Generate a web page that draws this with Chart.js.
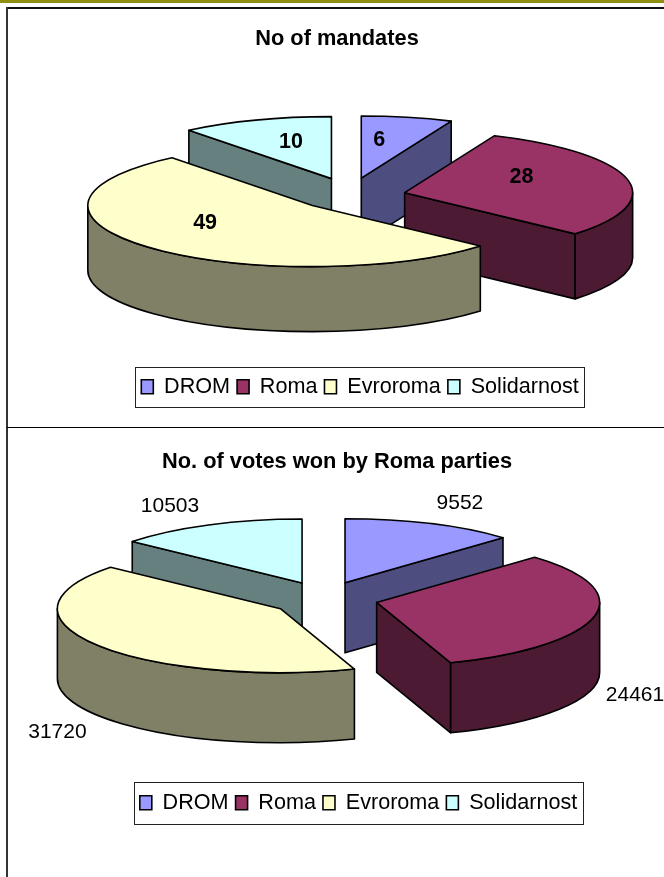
<!DOCTYPE html>
<html>
<head>
<meta charset="utf-8">
<script src="https://cdn.jsdelivr.net/npm/chart.js"></script>
<style>
html,body{margin:0;padding:0;background:#fff;width:664px;height:877px;overflow:hidden}
canvas{position:absolute;left:0}
.f{position:absolute}
</style>
</head>
<body>
<div class="f" style="left:0;top:0;width:664px;height:3px;background:#8f8f14"></div>
<div class="f" style="left:6px;top:7px;width:658px;height:2px;background:#111"></div>
<div class="f" style="left:6px;top:7px;width:2px;height:870px;background:#333"></div>
<div class="f" style="left:7px;top:427px;width:657px;height:1px;background:#000"></div>
<canvas id="c1" style="top:0"></canvas>
<canvas id="c2" style="top:427px"></canvas>
<script>
const categories = ['DROM', 'Roma', 'Evroroma', 'Solidarnost'];
const mandates = [6, 28, 49, 10];
const votes = [9552, 24461, 31720, 10503];
const topColors = ['#9999FF', '#993366', '#FFFFCC', '#CCFFFF'];
const wallColors = ['#4D4D80', '#4D1A33', '#808066', '#668080'];
const paintOrder = [3, 0, 1, 2];

const FONT = '"Liberation Sans", Arial, sans-serif';

const pie3d = {
  id: 'pie3d',
  afterLayout(chart, args, o) {
    chart.titleBlock.left += o.titleShift; chart.titleBlock.right += o.titleShift;
    const lg = chart.legend, h = lg.height;
    lg.left += o.legendShift; lg.right += o.legendShift;
    lg.top = o.legendTop; lg.bottom = o.legendTop + h;
  },
  beforeDraw(chart, args, o) {
    const boxes = chart.legend.legendHitBoxes, ctx = chart.ctx;
    const l = Math.min(...boxes.map(b => b.left)), r = Math.max(...boxes.map(b => b.left + b.width));
    const t = Math.min(...boxes.map(b => b.top)), b = Math.max(...boxes.map(b => b.top + b.height));
    ctx.save();
    ctx.strokeStyle = '#222'; ctx.lineWidth = 1;
    ctx.strokeRect(Math.round(l - o.boxPadX) + .5, Math.round(t - o.boxPadY) + .5,
                   Math.round(r - l + 2 * o.boxPadX), Math.round(b - t + 2 * o.boxPadY));
    ctx.restore();
  },
  beforeDatasetDraw(chart, args, o) {
    const ctx = chart.ctx, arcs = args.meta.data, k = o.squash, d = o.depth;
    const apexOf = (el, i) => {
      const m = (el.startAngle + el.endAngle) / 2;
      return {x: o.cx + o.explode * Math.cos(m) + o.nudgeX[i], y: o.cy + k * o.explode * Math.sin(m) + o.nudgeY[i]};
    };
    const outline = () => { ctx.strokeStyle = '#000'; ctx.lineWidth = 1.6; ctx.lineJoin = 'round'; ctx.fill(); ctx.stroke(); };
    paintOrder.forEach(i => {
      const el = arcs[i], p = apexOf(el, i), f = o.scale[i], r = el.outerRadius * f;
      const a0 = el.startAngle, a1 = el.endAngle;
      ctx.save();
      ctx.fillStyle = wallColors[i];
      const flatWall = a => {
        ctx.beginPath();
        ctx.moveTo(p.x, p.y);
        ctx.lineTo(p.x + r * Math.cos(a), p.y + k * r * Math.sin(a));
        ctx.lineTo(p.x + r * Math.cos(a), p.y + k * r * Math.sin(a) + d);
        ctx.lineTo(p.x, p.y + d);
        ctx.closePath();
        outline();
      };
      if (-Math.cos(a0) > 0) flatWall(a0);
      if (Math.cos(a1) > 0) flatWall(a1);
      // the part of the rim that faces the viewer
      [0, 2 * Math.PI].forEach(base => {
        const s = Math.max(a0, base), e = Math.min(a1, base + Math.PI);
        if (e <= s) return;
        ctx.beginPath();
        ctx.ellipse(p.x, p.y, r, k * r, 0, s, e);
        ctx.ellipse(p.x, p.y + d, r, k * r, 0, e, s, true);
        ctx.closePath();
        outline();
      });
      // the top face is the library's own arc, squashed into perspective
      ctx.save();
      ctx.translate(p.x, p.y);
      ctx.scale(f, k * f);
      ctx.translate(-el.x, -el.y);
      el.draw(ctx);
      ctx.restore();
      ctx.beginPath();
      ctx.moveTo(p.x, p.y);
      ctx.ellipse(p.x, p.y, r, k * r, 0, a0, a1);
      ctx.closePath();
      ctx.strokeStyle = '#000'; ctx.lineWidth = 1.6; ctx.lineJoin = 'round'; ctx.stroke();
      ctx.restore();
    });
    const values = chart.data.datasets[0].data;
    ctx.save();
    ctx.fillStyle = '#000';
    ctx.font = o.labelFont;
    ctx.textAlign = 'center'; ctx.textBaseline = 'middle';
    arcs.forEach((el, i) => {
      const p = apexOf(el, i), a = (o.labelAngle[i] - 90) * Math.PI / 180, rr = o.labelRadius[i] * el.outerRadius;
      ctx.fillText(String(values[i]), p.x + rr * Math.cos(a), p.y + k * rr * Math.sin(a));
    });
    ctx.restore();
    return false;
  }
};

function makePie(id, w, h, values, title, titleTop, radius, cfg) {
  const cv = document.getElementById(id);
  cv.width = w; cv.height = h; cv.style.width = w + 'px'; cv.style.height = h + 'px';
  return new Chart(cv, {
    type: 'pie',
    data: {labels: categories, datasets: [{data: values, backgroundColor: topColors, borderWidth: 0}]},
    plugins: [pie3d],
    options: {
      responsive: false, animation: false, radius: radius,
      plugins: {
        tooltip: {enabled: false},
        title: {display: true, text: title, color: '#000', padding: {top: titleTop, bottom: 0},
                font: {family: FONT, size: 21.8, weight: 'bold'}},
        legend: {position: 'bottom', labels: {
          boxWidth: 12, boxHeight: 14, padding: 7, color: '#000', font: {family: FONT, size: 21.6},
          generateLabels(chart) {
            return Chart.overrides.pie.plugins.legend.labels.generateLabels(chart)
              .map(l => Object.assign(l, {strokeStyle: '#000', lineWidth: 1.6}));
          }
        }},
        pie3d: cfg
      }
    }
  });
}

makePie('c1', 664, 427, mandates, 'No of mandates', 26, 228, {
  cx: 350, cy: 193, squash: 0.272, explode: 56, depth: 65,
  nudgeX: [0, 0, 3, 0], nudgeY: [0, 3, 2, 0], scale: [1, 1, 0.985, 1],
  labelFont: 'bold 21.5px ' + FONT,
  labelAngle: [7.3, 63.7, 239, 343.3], labelRadius: [0.618, 0.572, 0.549, 0.618],
  titleShift: 5, legendShift: 28, legendTop: 369, boxPadX: 6, boxPadY: 9
});
makePie('c2', 664, 450, votes, 'No. of votes won by Roma parties', 22, 223, {
  cx: 324.5, cy: 170, squash: 0.287, explode: 53.5, depth: 70,
  nudgeX: [0, 0, 0, 0], nudgeY: [0, 2, 3, 0], scale: [1, 1, 1, 1],
  labelFont: '21px ' + FONT,
  labelAngle: [22.4, 141.3, 207.3, 333.8], labelRadius: [1.352, 1.853, 2.18, 1.341],
  titleShift: 5, legendShift: 26.5, legendTop: 358, boxPadX: 6, boxPadY: 10
});
</script>
</body>
</html>
